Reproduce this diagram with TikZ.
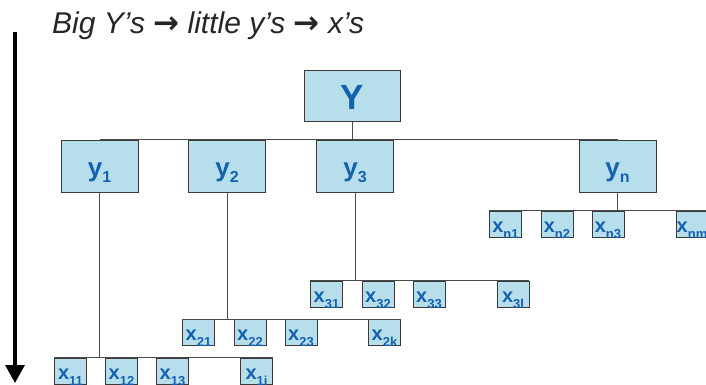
\documentclass[tikz,border=0pt]{standalone}
\usepackage{fontspec}
\setmainfont{Liberation Sans}
\newfontfamily\symfont{DejaVu Sans}
\usetikzlibrary{arrows.meta}
\definecolor{boxfill}{HTML}{B7DFEB}
\definecolor{boxtext}{HTML}{1560B0}
\definecolor{boxline}{HTML}{3A3A3A}
\definecolor{wire}{HTML}{4A4A4A}
\newcommand\subx[1]{\raisebox{-6pt}{\fontsize{13}{13}\selectfont #1}}
\newcommand\xlab[1]{x\subx{#1}}
\newcommand\ylab[1]{y\raisebox{-6pt}{\fontsize{16}{16}\selectfont #1}}
\newcommand\tarrow{{\symfont\upshape\bfseries\fontsize{31}{31}\selectfont →}}
\tikzset{
  base/.style={draw=boxline, line width=0.9pt, fill=boxfill, text=boxtext, font=\bfseries, inner sep=0pt, align=center},
  bigbox/.style={base, minimum width=96pt, text height=39pt, text depth=12pt, font=\fontsize{35}{35}\selectfont\bfseries},
  ybox/.style={base, minimum width=77pt, text height=36pt, text depth=16pt, font=\fontsize{26}{26}\selectfont\bfseries},
  xbox/.style={base, minimum width=32pt, text height=21pt, text depth=5pt, font=\fontsize{20}{20}\selectfont\bfseries},
  wire/.style={draw=wire, line width=0.9pt}
}
\begin{document}
\begin{tikzpicture}[x=1pt,y=-1pt]
\useasboundingbox (0,0) rectangle (706,384);
\node[anchor=base west, inner sep=0pt, text=black!85, font=\fontsize{30}{30}\selectfont\itshape] (title) at (52,33) {Big Y’s \tarrow{} little y’s \tarrow{} x’s};
\coordinate (atop) at (15,32);
\coordinate (abot) at (15,383);
\draw[line width=3.2pt, -{Triangle[width=19pt,length=18pt]}] (atop) -- (abot);

\node[bigbox] (Y) at (352,95.5) {Y};
\node[ybox] (y1) at (99.5,166) {\ylab{1}};
\node[ybox] (y2) at (227,166) {\ylab{2}};
\node[ybox] (y3) at (355,166) {\ylab{3}};
\node[ybox] (yn) at (617.5,166) {\ylab{n}};

\node[xbox] (xn1) at (505.5,224) {\xlab{n1}};
\node[xbox] (xn2) at (557,224) {\xlab{n2}};
\node[xbox] (xn3) at (608,224) {\xlab{n3}};
\node[xbox] (xnm) at (692,224) {\xlab{nm}};

\node[xbox] (x31) at (326.5,294) {\xlab{31}};
\node[xbox] (x32) at (378,294) {\xlab{32}};
\node[xbox] (x33) at (429,294) {\xlab{33}};
\node[xbox] (x3l) at (513,294) {\xlab{3l}};

\node[xbox] (x21) at (198.5,332.5) {\xlab{21}};
\node[xbox] (x22) at (250,332.5) {\xlab{22}};
\node[xbox] (x23) at (301,332.5) {\xlab{23}};
\node[xbox] (x2k) at (384.5,332.5) {\xlab{2k}};

\node[xbox] (x11) at (70.5,371) {\xlab{11}};
\node[xbox] (x12) at (121.5,371) {\xlab{12}};
\node[xbox] (x13) at (172.5,371) {\xlab{13}};
\node[xbox] (x1i) at (256.5,371) {\xlab{1i}};

\draw[wire] (Y.south) -- (Y.south |- y1.north);
\draw[wire] (y1.north) -- (yn.north);
\draw[wire] (yn.south) -- (yn.south |- xn1.north);
\draw[wire] (xn1.north west) -- (xnm.north east);
\draw[wire] (y3.south) -- (y3.south |- x31.north);
\draw[wire] (x31.north west) -- (x3l.north east);
\draw[wire] (y2.south) -- (y2.south |- x21.north);
\draw[wire] (x21.north west) -- (x2k.north east);
\draw[wire] (y1.south) -- (y1.south |- x11.north);
\draw[wire] (x11.north west) -- (x1i.north east);
\end{tikzpicture}
\end{document}
